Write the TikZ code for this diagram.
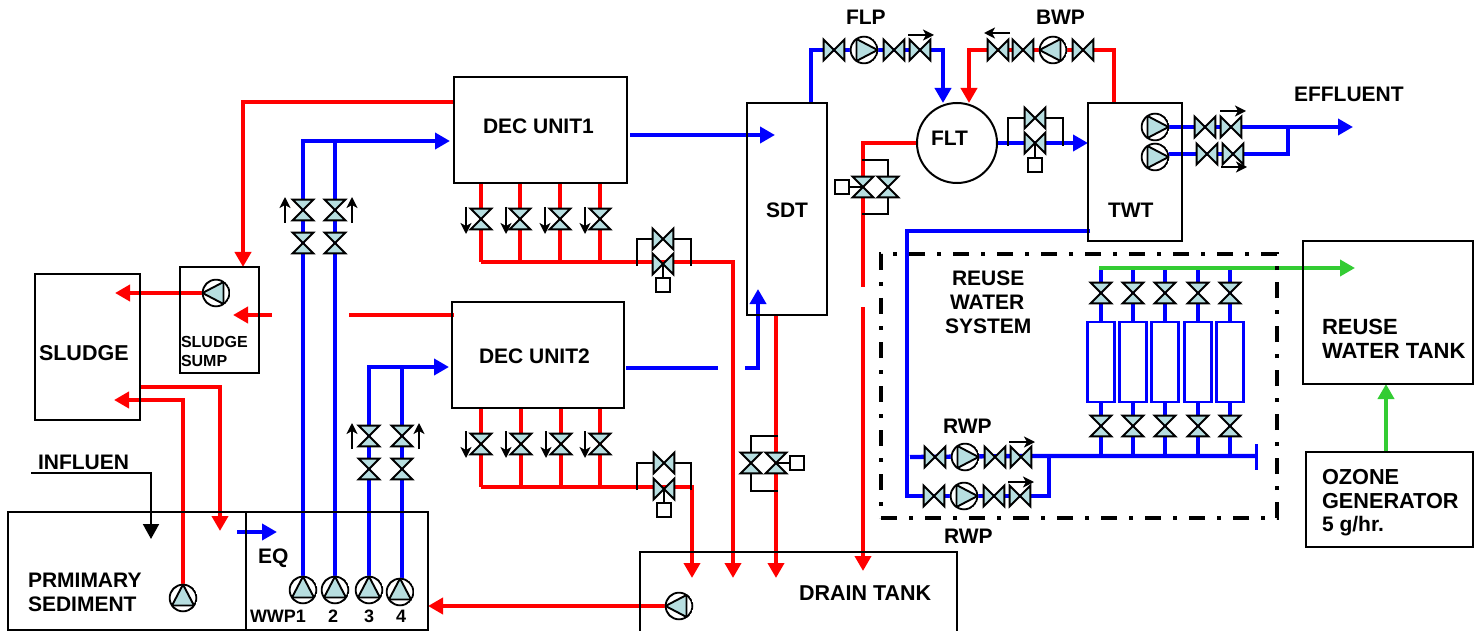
\documentclass[tikz,border=0pt]{standalone}
\usepackage{fontspec}
\setmainfont{Liberation Sans}
\usetikzlibrary{arrows.meta,fit}
\pgfdeclarelayer{pipes}
\pgfsetlayers{pipes,main}
\definecolor{vfill}{HTML}{B7DEE0}
\definecolor{pgreen}{HTML}{33CC33}
\newcommand\pumpshape[6]{%
    \begin{scope}[shift={(path picture bounding box.center)}]
    \draw[line width=1.9pt,fill=vfill,line join=miter] (#1,#2) -- (#3,#4) -- (#5,#6) -- cycle;
    \end{scope}
    \draw[line width=1.9pt] (path picture bounding box.center) circle (13.4pt);}
\tikzset{
  tank/.style={rectangle,draw=black,line width=2pt,inner sep=0pt,outer sep=0pt},
  hv/.style={rectangle,minimum size=27pt,inner sep=0pt,path picture={
    \begin{scope}[shift={(path picture bounding box.center)}]
    \draw[line width=2pt,fill=vfill,line join=miter] (-10.3,-10.3) -- (10.3,10.3) -- (10.3,-10.3) -- (-10.3,10.3) -- cycle;
    \end{scope}}},
  vv/.style={rectangle,minimum size=27pt,inner sep=0pt,path picture={
    \begin{scope}[shift={(path picture bounding box.center)}]
    \draw[line width=2pt,fill=vfill,line join=miter] (-10.3,-10.3) -- (10.3,10.3) -- (-10.3,10.3) -- (10.3,-10.3) -- cycle;
    \end{scope}}},
  pumpbase/.style={circle,fill=white,minimum size=28.5pt,inner sep=0pt,outer sep=0pt},
  pumpR/.style={pumpbase,path picture={\pumpshape{13.5}{0}{-7.5}{-11}{-7.5}{11}}},
  pumpL/.style={pumpbase,path picture={\pumpshape{-13.5}{0}{7.5}{-11}{7.5}{11}}},
  pumpU/.style={pumpbase,path picture={\pumpshape{0}{-13.5}{-11}{7.5}{11}{7.5}}},
  ctrl/.style={rectangle,draw=black,fill=white,line width=1.8pt,minimum size=14pt,inner sep=0pt},
  lbl/.style={inner sep=0pt,outer sep=0pt,anchor=base west,text=black},
  rp/.style={draw=red,line width=4.3pt},
  bp/.style={draw=blue,line width=4.3pt},
  gp/.style={draw=pgreen,line width=4.3pt},
  tipa/.style={-{Triangle[length=15pt,width=16pt]}},
  thinl/.style={draw=black,line width=1.7pt},
  flowa/.style={draw=black,line width=1.8pt,-{Stealth[length=11pt,width=11pt,inset=3pt]}}
}
\newcommand\tankbox[5]{\coordinate (#1 a) at (#2,#3);\coordinate (#1 b) at (#4,#5);\node[tank,fit=(#1 a)(#1 b)] (#1) {};}
\newcommand\HV[3]{\node[hv] (#1) at (#2,#3) {};}
\newcommand\VV[3]{\node[vv] (#1) at (#2,#3) {};}
\newcommand\txt[5]{\node[lbl] (#1) at (#2,#3) {\fontsize{#4}{#4}\selectfont\bfseries #5};}
\newcommand\flowarrow[5]{\coordinate (#1 s) at (#2,#3);\coordinate (#1 e) at (#4,#5);\draw[flowa] (#1 s) -- (#1 e);}
\newcommand\pt[3]{\coordinate (#1) at (#2,#3);}
\begin{document}
\begin{tikzpicture}[x=1pt,y=-1pt]
\useasboundingbox (0,0) rectangle (1481,631);
\clip (0,0) rectangle (1481,631);
% tanks
\tankbox{dec1}{454}{77}{627}{183}
\tankbox{dec2}{452}{302}{624}{408}
\tankbox{sdt}{747}{103}{827}{315}
\tankbox{twt}{1088}{103}{1182}{241}
\tankbox{sludge}{35}{274}{140}{420}
\tankbox{sump}{180}{267}{259}{373}
\tankbox{prim}{8}{512}{246}{630}
\tankbox{eq}{246}{512}{428}{630}
\tankbox{drain}{640}{552}{957}{650}
\tankbox{rwt}{1303}{241}{1473}{384}
\tankbox{ozone}{1306}{452}{1473}{547}
\node[circle,draw=black,line width=2pt,minimum size=80pt,inner sep=0pt] (flt) at (957,143) {};
\pt{rsa}{881}{254}\pt{rsb}{1277}{518}
\node[fit=(rsa)(rsb),inner sep=0pt,draw=black,line width=4pt,dash pattern=on 16pt off 12pt on 4pt off 12pt] (reuse) {};
% pumps
\node[pumpU] (wwp1) at (303,590) {};
\node[pumpU] (wwp2) at (335,590) {};
\node[pumpU] (wwp3) at (369,590) {};
\node[pumpU] (wwp4) at (400,592) {};
\node[pumpU] (pp) at (183,598) {};
\node[pumpL] (sp) at (216,293) {};
\node[pumpL] (dp) at (679,606) {};
\node[pumpR] (flp) at (864,50) {};
\node[pumpL] (bwp) at (1053,50) {};
\node[pumpR] (tp1) at (1155,127) {};
\node[pumpR] (tp2) at (1155,157) {};
\node[pumpR] (rp1) at (965,457) {};
\node[pumpR] (rp2) at (964,496) {};
% valves
\VV{w1a}{303}{210}\VV{w1b}{303}{243}\VV{w2a}{335}{210}\VV{w2b}{335}{243}
\VV{w3a}{369}{436}\VV{w3b}{369}{469}\VV{w4a}{402}{436}\VV{w4b}{402}{469}
\VV{d1a}{481}{219}\VV{d1b}{520}{219}\VV{d1c}{560}{219}\VV{d1d}{600}{219}
\VV{d2a}{481}{444}\VV{d2b}{521}{444}\VV{d2c}{561}{444}\VV{d2d}{600}{444}
\HV{d1u}{663}{239}\HV{d1l}{663}{264}\HV{d2u}{664}{463}\HV{d2l}{664}{489}
\VV{sv1}{776}{463}\VV{sv2}{751}{463}
\VV{fv1}{863}{187}\VV{fv2}{888}{187}
\HV{ou}{1035}{118}\HV{ol}{1035}{143}
\HV{fl1}{834}{50}\HV{fl2}{894}{50}\HV{fl3}{920}{50}
\HV{bw1}{998}{50}\HV{bw2}{1023}{50}\HV{bw3}{1083}{50}
\HV{t1a}{1205}{127}\HV{t1b}{1231}{127}\HV{t2a}{1207}{154}\HV{t2b}{1233}{154}
\HV{r1a}{935}{457}\HV{r1b}{995}{457}\HV{r1c}{1021}{457}
\HV{r2a}{934}{496}\HV{r2b}{994}{496}\HV{r2c}{1020}{496}
\VV{fa1}{1101}{293}\VV{fa2}{1133}{293}\VV{fa3}{1165}{293}\VV{fa4}{1198}{293}\VV{fa5}{1230}{293}
\VV{fb1}{1101}{426}\VV{fb2}{1133}{426}\VV{fb3}{1165}{426}\VV{fb4}{1198}{426}\VV{fb5}{1230}{426}
% control boxes
\node[ctrl] (c1) at (663,285) {};
\node[ctrl] (c2) at (664,510) {};
\node[ctrl] (c3) at (797,463) {};
\node[ctrl] (c4) at (842,187) {};
\node[ctrl] (c5) at (1035,165) {};
% coordinates
\pt{t1}{450}{141}\pt{t2}{449}{367}
\pt{dc1}{630}{135}\pt{dc1t}{775}{135}
\pt{dc2}{626}{368}\pt{dc2e}{718}{368}\pt{dc2s}{745}{368}\pt{dc2k}{758}{368}\pt{dc2t}{758}{289}
\pt{dh1}{481}{262}\pt{dh1k}{733}{262}\pt{dh1t}{733}{578}
\pt{dh2}{481}{487}\pt{dh2k}{692}{487}\pt{dh2t}{692}{578}
\pt{sb}{776}{315}\pt{sbt}{776}{578}
\pt{rt1}{454}{102}\pt{rt1k}{243}{102}\pt{rt1t}{243}{267}
\pt{rt2}{454}{315}\pt{rt2e}{349}{315}\pt{rt2s}{272}{315}\pt{rt2t}{233}{315}
\pt{st}{115}{293}
\pt{so}{140}{387}\pt{sok}{220}{387}\pt{sot}{220}{531}
\pt{pk}{183}{400}\pt{pt}{114}{400}
\pt{inf}{31}{473}\pt{infk}{151}{473}\pt{inft}{151}{539}
\pt{eqs}{237}{532}\pt{eqt}{277}{532}
\pt{dpt}{428}{606}
\pt{fk}{863}{143}\pt{fe}{863}{287}\pt{fs}{863}{307}\pt{ft}{863}{571}
\pt{flpa}{811}{103}\pt{flpb}{811}{50}\pt{flpc}{943}{50}\pt{flpt}{943}{103}
\pt{bwa}{1114}{103}\pt{bwb}{1114}{50}\pt{bwc}{969}{50}\pt{bwt}{969}{103}
\pt{oa}{997}{143}\pt{ot}{1088}{143}
\pt{eff}{1353}{127}\pt{effk}{1288}{154}
\pt{tw}{1090}{231}\pt{twk}{907}{231}\pt{twl}{907}{496}\pt{rk}{1049}{496}\pt{rh}{1049}{456}
\pt{rs}{910}{457}\pt{re}{1256}{456}\pt{rba}{1256}{444}\pt{rbb}{1256}{470}
\pt{gs}{1099}{268}\pt{gt}{1355}{268}\pt{ozt}{1386}{384}
% filters
\foreach \n/\x in {1/1101,2/1133,3/1165,4/1198,5/1230}{
  \node[rectangle,draw=blue,line width=2.4pt,fill=white,minimum width=27pt,minimum height=80pt,inner sep=0pt] (fil\n) at (\x,362) {};
}
\begin{pgfonlayer}{pipes}
% blue pipes
\draw[bp,tipa] (wwp1.center) -- (wwp1.center |- t1) -- (t1);
\draw[bp] (wwp2.center) -- (wwp2.center |- t1);
\draw[bp,tipa] (wwp3.center) -- (wwp3.center |- t2) -- (t2);
\draw[bp] (w4b.center |- wwp4.center) -- (w4b.center |- t2);
\draw[bp,tipa] (dc1) -- (dc1t);
\draw[bp] (dc2) -- (dc2e);
\draw[bp,tipa] (dc2s) -- (dc2k) -- (dc2t);
\draw[bp,tipa] (flpa) -- (flpb) -- (flpc) -- (flpt);
\draw[bp,tipa] (oa) -- (ot);
\draw[bp,tipa] (tp1.center) -- (eff);
\draw[bp] (tp2.center |- effk) -- (effk) -- (effk |- tp1.center);
\draw[bp] (tw) -- (twk) -- (twl) -- (rk) -- (rh);
\draw[bp] (rs) -- (r1c.center |- rh) -- (re);
\draw[draw=blue,line width=3pt] (rba) -- (rbb);
\draw[bp,tipa] (eqs) -- (eqt);
\foreach \n in {1,...,5}{
  \draw[bp] (fa\n.center |- gs) -- (fil\n.north);
  \draw[bp] (fil\n.south) -- (fb\n.center |- re);
}
% red pipes
\draw[rp] (d1a.center |- dec1.south) -- (dh1);
\draw[rp,tipa] (dh1) -- (dh1k) -- (dh1t);
\foreach \v in {d1b,d1c,d1d}{\draw[rp] (\v.center |- dec1.south) -- (\v.center |- dh1);}
\draw[rp] (d2a.center |- dec2.south) -- (dh2);
\draw[rp,tipa] (dh2) -- (dh2k) -- (dh2t);
\foreach \v in {d2b,d2c,d2d}{\draw[rp] (\v.center |- dec2.south) -- (\v.center |- dh2);}
\draw[rp,tipa] (sb) -- (sbt);
\draw[rp,tipa] (rt1) -- (rt1k) -- (rt1t);
\draw[rp] (rt2) -- (rt2e);
\draw[rp,tipa] (rt2s) -- (rt2t);
\draw[rp,tipa] (sp.center) -- (st);
\draw[rp,tipa] (so) -- (sok) -- (sot);
\draw[rp,tipa] (pp.center) -- (pk) -- (pt);
\draw[rp,tipa] (dp.center) -- (dpt);
\draw[rp] (flt.west) -- (fk) -- (fe);
\draw[rp,tipa] (fs) -- (ft);
\draw[rp,tipa] (bwa) -- (bwb) -- (bwc) -- (bwt);
% green pipes
\draw[gp,tipa] (gs) -- (gt);
\draw[gp,tipa] (ozone.north -| ozt) -- (ozt);
% black influent
\draw[draw=black,line width=2pt,tipa] (inf) -- (infk) -- (inft);
% bypass loops
\pt{ba1}{637}{266}\pt{ba2}{691}{266}
\draw[thinl] (ba1) -- (ba1 |- d1u.center) -- (ba2 |- d1u.center) -- (ba2);
\pt{bb1}{637}{490}\pt{bb2}{691}{490}
\draw[thinl] (bb1) -- (bb1 |- d2u.center) -- (bb2 |- d2u.center) -- (bb2);
\pt{bc1}{778}{436}\pt{bc2}{778}{491}
\draw[thinl] (bc1) -- (bc1 -| sv2.center) -- (bc2 -| sv2.center) -- (bc2);
\pt{bd1}{862}{160}\pt{bd2}{862}{214}
\draw[thinl] (bd1) -- (bd1 -| fv2.center) -- (bd2 -| fv2.center) -- (bd2);
\pt{be1}{1008}{146}\pt{be2}{1063}{146}
\draw[thinl] (be1) -- (be1 |- ou.center) -- (be2 |- ou.center) -- (be2);
\end{pgfonlayer}
% control stems
\draw[thinl] (d1l.center) -- (c1.north);
\draw[thinl] (d2l.center) -- (c2.north);
\draw[thinl] (sv1.center) -- (c3.west);
\draw[thinl] (fv1.center) -- (c4.east);
\draw[thinl] (ol.center) -- (c5.north);
% small flow arrows
\flowarrow{a1}{285}{223}{285}{197}
\flowarrow{a2}{352}{223}{352}{197}
\flowarrow{a3}{352}{449}{352}{423}
\flowarrow{a4}{419}{449}{419}{423}
\flowarrow{a5}{466}{207}{466}{234}
\flowarrow{a6}{506}{207}{506}{234}
\flowarrow{a7}{545}{207}{545}{234}
\flowarrow{a8}{585}{207}{585}{234}
\flowarrow{a9}{466}{431}{466}{458}
\flowarrow{a10}{506}{431}{506}{458}
\flowarrow{a11}{546}{431}{546}{458}
\flowarrow{a12}{585}{431}{585}{458}
\flowarrow{a13}{908}{35}{934}{35}
\flowarrow{a14}{1010}{33}{984}{33}
\flowarrow{a15}{1220}{111}{1246}{111}
\flowarrow{a16}{1221}{167}{1247}{167}
\flowarrow{a17}{1009}{442}{1035}{442}
\flowarrow{a18}{1008}{482}{1034}{482}
% labels
\txt{l1}{846}{25}{21}{FLP}
\txt{l2}{1036}{25}{21}{BWP}
\txt{l3}{931}{146}{21}{FLT}
\txt{l4}{1108}{218}{21}{TWT}
\txt{l5}{1294}{102}{21}{EFFLUENT}
\txt{l6}{766}{218}{21}{SDT}
\txt{l7}{483}{134}{21}{DEC UNIT1}
\txt{l8}{479}{363}{21}{DEC UNIT2}
\txt{l9}{39}{360}{21.5}{SLUDGE}
\txt{l10}{181}{347}{16}{SLUDGE}
\txt{l11}{181}{366}{16}{SUMP}
\txt{l12}{38}{469}{21}{INFLUEN}
\txt{l13}{28}{587}{21}{PRMIMARY}
\txt{l14}{28}{611}{21}{SEDIMENT}
\txt{l15}{258}{563}{21}{EQ}
\txt{l16}{250}{622}{18}{WWP1}
\txt{l17}{328}{622}{18}{2}
\txt{l18}{364}{622}{18}{3}
\txt{l19}{396}{622}{18}{4}
\txt{l20}{799}{600}{21.5}{DRAIN TANK}
\txt{l21}{952}{285}{21}{REUSE}
\txt{l22}{950}{309}{21}{WATER}
\txt{l23}{945}{333}{21}{SYSTEM}
\txt{l24}{943}{433}{21}{RWP}
\txt{l25}{944}{543}{21}{RWP}
\txt{l26}{1322}{334}{22}{REUSE}
\txt{l27}{1322}{358}{22}{WATER TANK}
\txt{l28}{1322}{484}{21.7}{OZONE}
\txt{l29}{1322}{508}{21.7}{GENERATOR}
\txt{l30}{1322}{531}{21}{5 g/hr.}
\end{tikzpicture}
\end{document}
